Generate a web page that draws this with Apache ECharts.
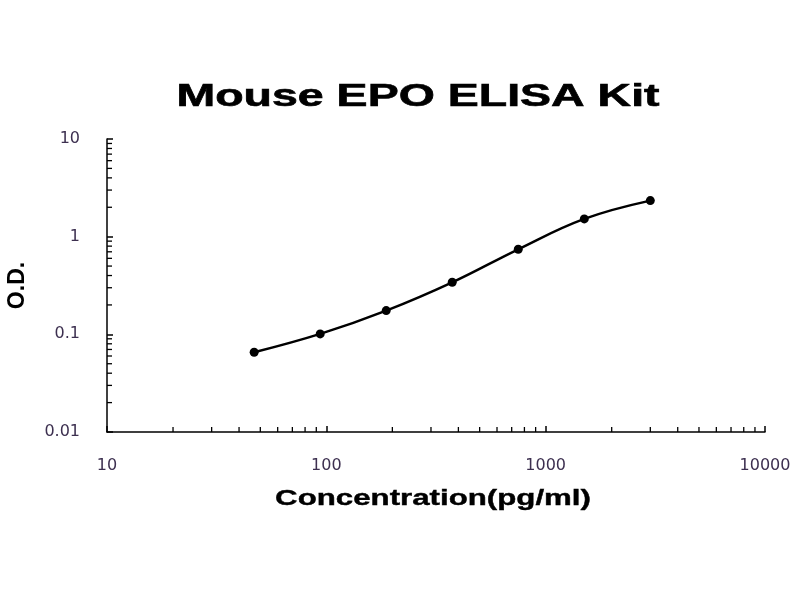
<!DOCTYPE html>
<html>
<head>
<meta charset="utf-8">
<script src="https://cdn.jsdelivr.net/npm/echarts@6/dist/echarts.min.js"></script>
<style>html,body{margin:0;padding:0;background:#fff}#c{width:800px;height:600px}</style>
</head>
<body>
<div id="c"></div>
<script>
var titleText = 'Mouse EPO ELISA Kit';
var xAxisName = 'Concentration(pg/ml)';
var yAxisName = 'O.D.';
var concentration = [46.875, 93.75, 187.5, 375, 750, 1500, 3000];
var od = [0.0655, 0.101, 0.175, 0.341, 0.743, 1.52, 2.34];
var xTicks = [10, 100, 1000, 10000];
var yTicks = [0.01, 0.1, 1, 10];
var minorMultipliers = [2, 3, 4, 5, 6, 7, 8, 9];

var xMin = xTicks[0], xMax = xTicks[xTicks.length - 1];
var yMin = yTicks[0], yMax = yTicks[yTicks.length - 1];

var minorData = [];
xTicks.slice(0, -1).forEach(function (d) {
  minorMultipliers.forEach(function (m) { minorData.push(['x', d * m]); });
});
yTicks.slice(0, -1).forEach(function (d) {
  minorMultipliers.forEach(function (m) { minorData.push(['y', d * m]); });
});

var labelColor = '#3d3050';
var chart = echarts.init(document.getElementById('c'));
chart.setOption({
  animation: false,
  backgroundColor: '#fff',
  graphic: [
    {
      type: 'text', x: 418, y: 98, scaleX: 1.55, scaleY: 1.02,
      style: { text: titleText, font: 'bold 30px "Liberation Sans"', fill: '#000',
        stroke: '#000', lineWidth: 0.6,
        textAlign: 'center', textVerticalAlign: 'middle' }
    },
    {
      type: 'text', x: 433, y: 499, scaleX: 1.42, scaleY: 1,
      style: { text: xAxisName, font: 'bold 22px "Liberation Sans"', fill: '#000',
        stroke: '#000', lineWidth: 0.4,
        textAlign: 'center', textVerticalAlign: 'middle' }
    }
  ],
  grid: { left: 107, right: 35, top: 139, bottom: 168, outerBoundsMode: 'none', containLabel: false },
  xAxis: {
    type: 'log', logBase: 10, min: xMin, max: xMax,
    axisLine: { lineStyle: { color: '#000', width: 1.5 } },
    axisTick: { inside: true, length: 6, lineStyle: { color: '#000', width: 1.5 } },
    axisLabel: { fontFamily: 'DejaVu Sans', fontSize: 16, color: labelColor, margin: 26,
      formatter: function (v) { return String(v); } },
    splitLine: { show: false }
  },
  yAxis: {
    type: 'log', logBase: 10, min: yMin, max: yMax,
    name: yAxisName, nameLocation: 'middle', nameGap: 78, nameRotate: 90,
    nameTextStyle: { fontFamily: 'Liberation Sans', fontWeight: 'bold', fontSize: 23, color: '#000' },
    axisLine: { lineStyle: { color: '#000', width: 1.5 } },
    axisTick: { inside: true, length: 6, lineStyle: { color: '#000', width: 1.5 } },
    axisLabel: { fontFamily: 'DejaVu Sans', fontSize: 16, color: labelColor, margin: 27,
      formatter: function (v) { return String(v); } },
    splitLine: { show: false }
  },
  series: [
    {
      type: 'custom',
      silent: true,
      clip: false,
      data: minorData,
      renderItem: function (params, api) {
        var axis = api.value(0);
        var v = api.value(1);
        if (axis === 'x' || axis === 0) {
          var p = api.coord([v, yMin]);
          return { type: 'line', shape: { x1: p[0], y1: p[1], x2: p[0], y2: p[1] - 5 },
            style: { stroke: '#000', lineWidth: 1.3 } };
        } else {
          var q = api.coord([xMin, v]);
          return { type: 'line', shape: { x1: q[0], y1: q[1], x2: q[0] + 5, y2: q[1] },
            style: { stroke: '#000', lineWidth: 1.3 } };
        }
      },
      encode: { x: 1, y: 1 },
      dimensions: [{ name: 'axis', type: 'ordinal' }, { name: 'v', type: 'number' }]
    },
    {
      type: 'line',
      data: concentration.map(function (c, i) { return [c, od[i]]; }),
      smooth: 0.4,
      symbol: 'circle',
      symbolSize: 9,
      lineStyle: { color: '#000', width: 2.5 },
      itemStyle: { color: '#000' }
    }
  ]
});
</script>
</body>
</html>
